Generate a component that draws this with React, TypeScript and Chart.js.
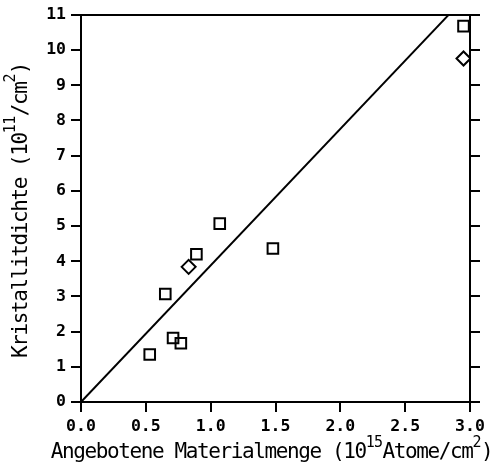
import React, { useEffect, useRef } from "react";
import { Chart, registerables } from "chart.js";

Chart.register(...registerables);

// Measured crystallite densities (squares)
const squareX = [0.53, 0.65, 0.71, 0.77, 0.89, 1.07, 1.48, 2.95];
const squareY = [1.35, 3.07, 1.82, 1.67, 4.2, 5.07, 4.36, 10.68];
// Second sample series (diamonds)
const diamondX = [0.83, 2.95];
const diamondY = [3.84, 9.76];
// Straight reference line through the origin
const fitX = [0, 2.835];
const fitY = [0, 11];

const xTicks = [0, 0.5, 1, 1.5, 2, 2.5, 3];
const yTicks = [0, 1, 2, 3, 4, 5, 6, 7, 8, 9, 10, 11];

const xTitle = [
  { t: "Angebotene Materialmenge (10", sup: false },
  { t: "15", sup: true },
  { t: "Atome/cm", sup: false },
  { t: "2", sup: true },
  { t: ")", sup: false },
];
const yTitle = [
  { t: "Kristallitdichte (10", sup: false },
  { t: "11", sup: true },
  { t: "/cm", sup: false },
  { t: "2", sup: true },
  { t: ")", sup: false },
];

const MONO = "'DejaVu Sans Mono', monospace";
const mainFont = `21px ${MONO}`;
const supFont = `15px ${MONO}`;

type Seg = { t: string; sup: boolean };

function drawSegments(ctx: CanvasRenderingContext2D, segs: Seg[], supRaise: number) {
  const c = ctx as any;
  const spacingFor = (s: Seg) => (s.sup ? "-0.6px" : "-1.4px");
  let total = 0;
  for (const s of segs) {
    ctx.font = s.sup ? supFont : mainFont;
    c.letterSpacing = spacingFor(s);
    total += ctx.measureText(s.t).width;
  }
  let x = -total / 2;
  for (const s of segs) {
    ctx.font = s.sup ? supFont : mainFont;
    c.letterSpacing = spacingFor(s);
    ctx.fillText(s.t, x, s.sup ? -supRaise : 0);
    x += ctx.measureText(s.t).width;
  }
  c.letterSpacing = "0px";
}

const framePlugin = {
  id: "frameAndTitles",
  afterDraw(chart: Chart) {
    const { ctx, chartArea } = chart;
    const { left, right, top, bottom } = chartArea;
    ctx.save();
    // top edge of the frame
    ctx.strokeStyle = "#000";
    ctx.lineWidth = 2;
    ctx.beginPath();
    ctx.moveTo(left, top);
    ctx.lineTo(right, top);
    ctx.stroke();

    ctx.fillStyle = "#000";
    ctx.textBaseline = "alphabetic";
    ctx.textAlign = "left";

    // x-axis title
    ctx.save();
    ctx.translate((left + right) / 2 - 4, 458);
    drawSegments(ctx, xTitle, 11);
    ctx.restore();

    // y-axis title, rotated
    ctx.save();
    ctx.translate(27, (top + bottom) / 2 + 2);
    ctx.rotate(-Math.PI / 2);
    drawSegments(ctx, yTitle, 12);
    ctx.restore();

    ctx.restore();
  },
};

const tickFont = { family: MONO, size: 16.5, weight: "bold" as const };

export default function App() {
  const ref = useRef<HTMLCanvasElement | null>(null);

  useEffect(() => {
    if (!ref.current) return;
    const chart = new Chart(ref.current, {
      type: "scatter",
      data: {
        datasets: [
          {
            type: "line",
            data: fitX.map((x, i) => ({ x, y: fitY[i] })),
            borderColor: "#000",
            borderWidth: 2,
            pointRadius: 0,
            fill: false,
          },
          {
            data: squareX.map((x, i) => ({ x, y: squareY[i] })),
            pointStyle: "rect",
            pointRadius: 7.5,
            borderColor: "#000",
            backgroundColor: "rgba(255,255,255,0)",
            borderWidth: 2,
          },
          {
            data: diamondX.map((x, i) => ({ x, y: diamondY[i] })),
            pointStyle: "rectRot",
            pointRadius: 7,
            borderColor: "#000",
            backgroundColor: "rgba(255,255,255,0)",
            borderWidth: 2,
          },
        ],
      },
      options: {
        animation: false,
        responsive: true,
        maintainAspectRatio: false,
        layout: { padding: { top: 14, left: 0, right: 0, bottom: 0 } },
        plugins: { legend: { display: false }, tooltip: { enabled: false } },
        scales: {
          x: {
            type: "linear",
            position: "bottom",
            min: 0,
            max: 3,
            afterBuildTicks: (s: any) => {
              s.ticks = xTicks.map((v) => ({ value: v }));
            },
            afterFit: (s: any) => {
              s.height = 64;
            },
            ticks: {
              color: "#000",
              font: tickFont,
              padding: 5,
              maxRotation: 0,
              autoSkip: false,
              callback: (v: any) => Number(v).toFixed(1),
            },
            grid: { drawOnChartArea: false, tickLength: 10, lineWidth: 2, color: "#000" },
            border: { display: true, width: 2, color: "#000" },
          },
          y: {
            type: "linear",
            position: "left",
            min: 0,
            max: 11,
            afterBuildTicks: (s: any) => {
              s.ticks = yTicks.map((v) => ({ value: v }));
            },
            afterFit: (s: any) => {
              s.width = 81;
            },
            ticks: {
              color: "#000",
              font: tickFont,
              padding: 5,
              autoSkip: false,
              callback: (v: any) => String(v),
            },
            grid: { drawOnChartArea: false, tickLength: 10, lineWidth: 2, color: "#000" },
            border: { display: true, width: 2, color: "#000" },
          },
          y2: {
            type: "linear",
            position: "right",
            min: 0,
            max: 11,
            afterBuildTicks: (s: any) => {
              s.ticks = yTicks.map((v) => ({ value: v }));
            },
            afterFit: (s: any) => {
              s.width = 23;
            },
            ticks: { display: false },
            grid: { drawOnChartArea: false, tickLength: 10, lineWidth: 2, color: "#000" },
            border: { display: true, width: 2, color: "#000" },
          },
        },
      },
      plugins: [framePlugin],
    });
    return () => chart.destroy();
  }, []);

  return (
    <div style={{ position: "fixed", left: 0, top: 0, width: 493, height: 466, background: "#fff" }}>
      <canvas ref={ref} />
    </div>
  );
}
